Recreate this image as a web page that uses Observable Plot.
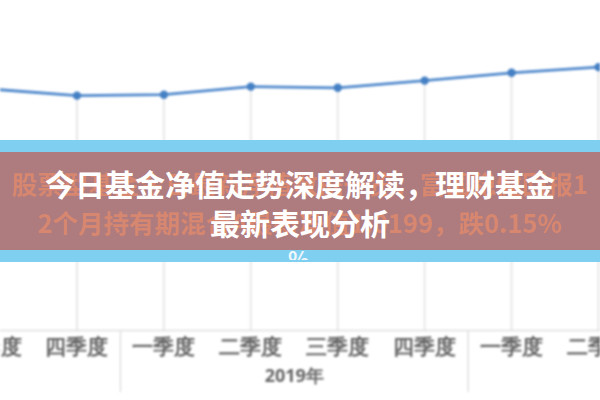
<!DOCTYPE html>
<html>
<head>
<meta charset="utf-8">
<script src="https://cdn.jsdelivr.net/npm/d3@7"></script>
<script src="https://cdn.jsdelivr.net/npm/@observablehq/plot@0.6"></script>
<style>
  html, body { margin: 0; padding: 0; background: #fff; }
  #wrap { position: relative; width: 600px; height: 400px; overflow: hidden; font-family: "Noto Sans CJK SC", "Noto Sans", sans-serif; }
  #chart svg { display: block; filter: blur(0.9px); }
  .band-blue { position: absolute; left: 0; top: 140px; width: 600px; height: 122px; background: #7fcff1; }
  .band-red { position: absolute; left: 0; top: 152px; width: 600px; height: 98px; background: #ae7b7f; }
  .line { position: absolute; left: 0; width: 600px; text-align: center; white-space: nowrap; font-weight: 700; }
  .faded { color: #d7876f; font-size: 25.5px; height: 38px; line-height: 38px; filter: blur(0.3px); }
  .title { color: #ffffff; font-size: 30px; height: 40px; line-height: 40px; }
  .pct { position: absolute; left: 0; top: 250px; width: 600px; height: 10px; overflow: hidden; }
  .pct span { position: absolute; left: 288px; top: -3px; font-size: 22px; line-height: 22px; color: #eef7fb; font-weight: 700; }
</style>
</head>
<body>
<div id="wrap">
  <div id="chart"></div>
  <div class="band-blue"></div>
  <div class="band-red"></div>
  <div class="line faded" style="top:164px">股票型基金今日最新净值数据一览：富国稳健回报1</div>
  <div class="line faded" style="top:203px">2个月持有期混合A最新净值1.0199，跌0.15%</div>
  <div class="line title" style="top:163px">今日基金净值走势深度解读，理财基金</div>
  <div class="line title" style="top:202px">最新表现分析</div>
  <div class="pct"><span>%</span></div>
</div>
<script>
// Data
const quarters = ["三季度", "四季度", "一季度", "二季度", "三季度", "四季度", "一季度", "二季度"];
const years    = ["2018年", "2018年", "2019年", "2019年", "2019年", "2019年", "2020年", "2020年"];
const values   = [80.5, 78.3, 78.6, 81.3, 80.9, 83.3, 85.9, 87.8];

const data = quarters.map((q, i) => ({i, q, year: years[i], v: values[i]}));

// year groups (center + boundaries) derived from the arrays
const groups = d3.groups(data, d => d.year).map(([year, rows]) => ({
  year,
  first: d3.min(rows, d => d.i),
  last: d3.max(rows, d => d.i)
}));
const yearLabels = groups.filter(g => g.year === "2019年").map(g => ({year: g.year, x: (g.first + g.last) / 2}));
const separators = groups.slice(1).map(g => g.first - 0.5);

const chart = Plot.plot({
  width: 600,
  height: 400,
  marginTop: 0,
  marginRight: 0,
  marginBottom: 70,
  marginLeft: 0,
  x: {domain: [0.12, 7.023], axis: null},
  y: {domain: [0, 110], axis: null},
  marks: [
    Plot.ruleX(data, {x: "i", y1: 0, y2: "v", stroke: "#e8e8e8", strokeWidth: 2, clip: true}),
    Plot.ruleY([0], {stroke: "#dedede", strokeWidth: 1.5}),
    Plot.ruleX(separators, {x: d => d, y1: 0, y2: -20.7, stroke: "#e0e0e0", strokeWidth: 1.5}),
    Plot.line(data, {x: "i", y: "v", stroke: "#5089cc", strokeWidth: 2.8, clip: true}),
    Plot.dot(data, {x: "i", y: "v", r: 4.2, fill: "#4580c4", stroke: "none", clip: true}),
    Plot.text(data, {x: "i", y: 0, text: "q", dy: 17, fontSize: 21, fill: "#666", fontWeight: 700}),
    Plot.text(yearLabels, {x: "x", y: 0, text: "year", dy: 46, fontSize: 18, fill: "#666", fontWeight: 700})
  ]
});
document.getElementById("chart").appendChild(chart);
</script>
</body>
</html>
